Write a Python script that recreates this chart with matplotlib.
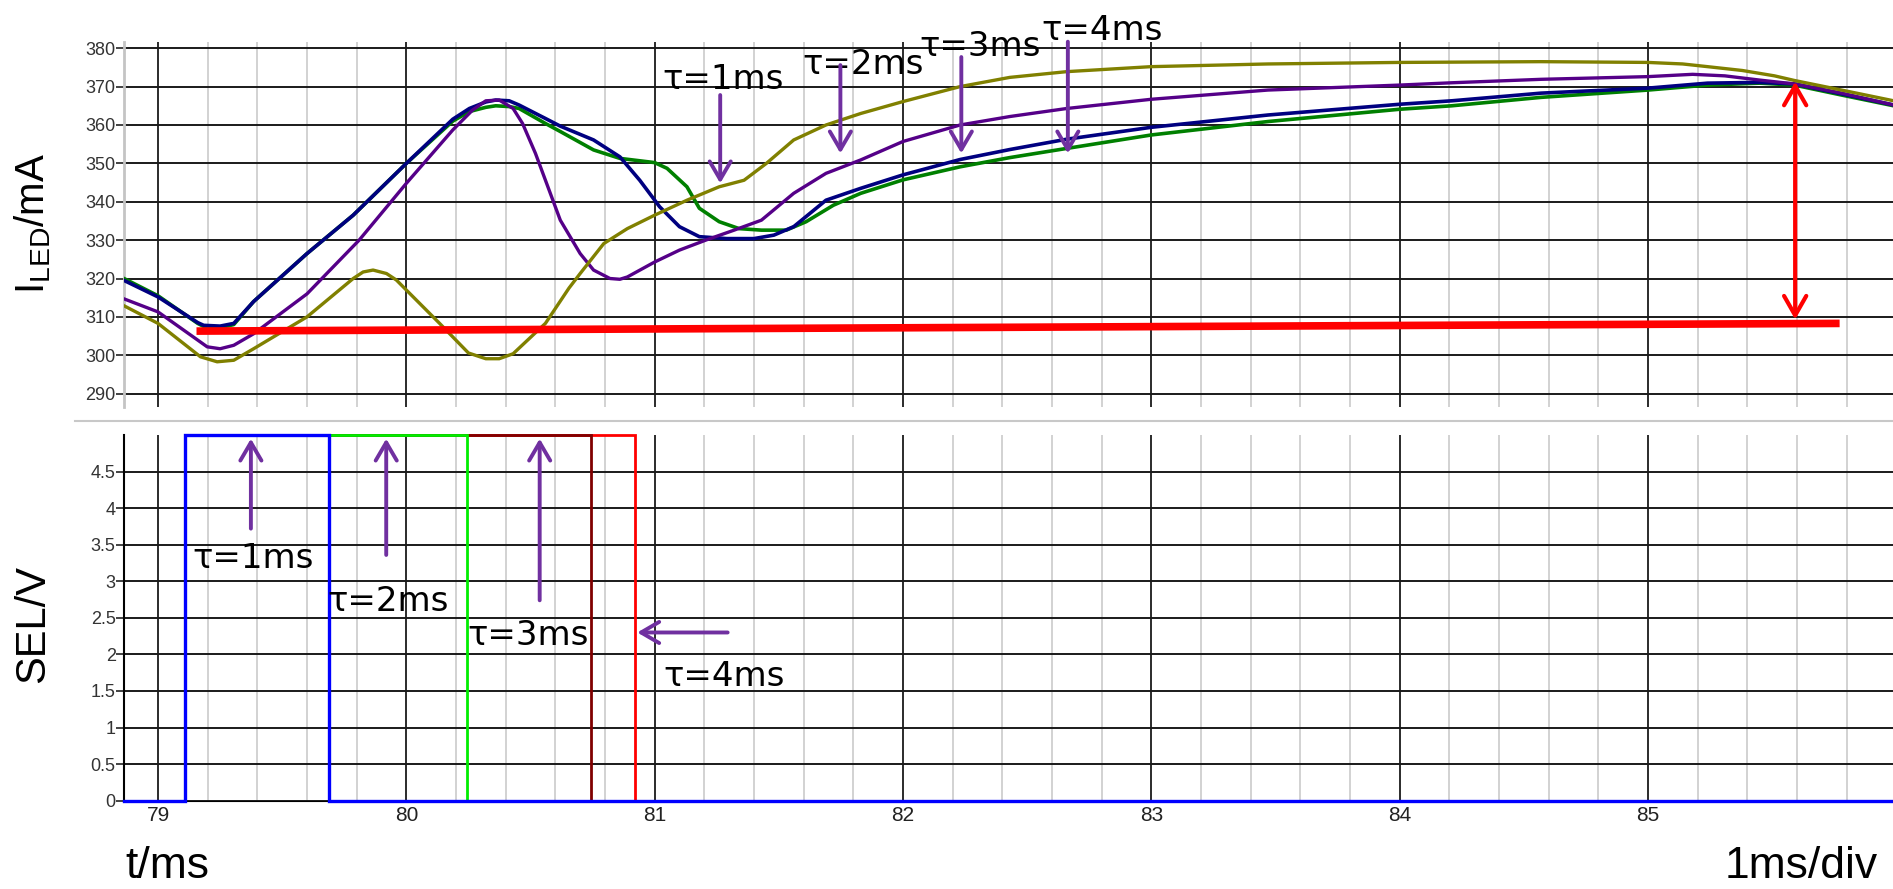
import matplotlib
matplotlib.use("Agg")
import matplotlib.pyplot as plt
from matplotlib.ticker import MultipleLocator, FuncFormatter, FixedLocator
from matplotlib.lines import Line2D

plt.rcParams['font.family'] = ['Liberation Sans', 'DejaVu Sans']
plt.rcParams['mathtext.fontset'] = 'custom'
plt.rcParams['mathtext.rm'] = 'Liberation Sans'
plt.rcParams['mathtext.it'] = 'Liberation Sans:italic'

# ---------------- data ----------------
x_range = (78.863, 85.987)
i_ticks = [290, 300, 310, 320, 330, 340, 350, 360, 370, 380]
v_ticks = [0, 0.5, 1, 1.5, 2, 2.5, 3, 3.5, 4, 4.5]
t_ticks = [79, 80, 81, 82, 83, 84, 85]

# LED current traces (t in ms, I in mA)
t_blue = [78.863, 79.0, 79.16, 79.184, 79.25, 79.305, 79.385, 79.6, 79.786, 80.0, 80.187, 80.254,
          80.32, 80.36, 80.414, 80.454, 80.56, 80.62, 80.754, 80.86, 80.94, 81.02, 81.10, 81.18,
          81.29, 81.40, 81.48, 81.56, 81.69, 81.83, 82.0, 82.23, 82.43, 82.66, 83.0, 83.47, 84.0,
          84.21, 84.57, 85.0, 85.24, 85.45, 85.59, 85.78, 85.99]
i_blue = [319.5, 315.2, 308.5, 307.8, 307.6, 308.3, 314.0, 326.5, 336.5, 350.0, 361.5, 364.3,
          366.0, 366.5, 366.3, 365.2, 361.7, 359.7, 356.1, 351.7, 345.6, 338.7, 333.5, 330.9,
          330.4, 330.4, 331.3, 333.5, 340.4, 343.5, 347.0, 351.0, 353.6, 356.3, 359.4, 362.6, 365.4,
          366.3, 368.3, 369.6, 370.9, 371.1, 370.7, 368.1, 365.2]

t_green = [78.863, 79.0, 79.16, 79.184, 79.25, 79.305, 79.385, 79.6, 79.786, 80.0, 80.187, 80.254,
           80.32, 80.36, 80.414, 80.454, 80.56, 80.62, 80.754, 80.86, 81.0, 81.05, 81.13, 81.18,
           81.26, 81.34, 81.43, 81.53, 81.61, 81.72, 81.83, 82.0, 82.23, 82.43, 82.66, 83.0, 83.47,
           84.0, 84.21, 84.57, 85.0, 85.24, 85.45, 85.59, 85.78, 85.99]
i_green = [320.0, 315.5, 308.3, 307.5, 307.2, 308.0, 314.0, 326.5, 336.5, 350.0, 361.0, 363.5,
           364.6, 365.0, 364.8, 364.3, 360.4, 358.3, 353.5, 351.3, 350.2, 348.7, 343.9, 338.3,
           334.8, 333.0, 332.6, 332.6, 334.8, 339.1, 342.2, 345.7, 349.1, 351.5, 353.9, 357.4, 360.9,
           364.1, 365.0, 367.2, 369.1, 370.4, 370.9, 370.4, 367.8, 365.0]

t_purple = [78.863, 79.0, 79.198, 79.25, 79.305, 79.385, 79.6, 79.81, 80.0, 80.187, 80.267, 80.32,
            80.374, 80.43, 80.468, 80.52, 80.62, 80.70, 80.754, 80.82, 80.86, 80.89, 81.0, 81.10,
            81.21, 81.32, 81.43, 81.56, 81.69, 81.83, 82.0, 82.23, 82.43, 82.66, 83.0, 83.47, 84.0,
            84.21, 84.57, 85.0, 85.18, 85.31, 85.45, 85.59, 85.78, 85.99]
i_purple = [314.7, 311.3, 302.2, 301.7, 302.6, 305.6, 316.0, 330.0, 344.8, 358.7, 363.9, 366.3,
            366.5, 364.3, 360.4, 352.6, 335.2, 326.5, 322.2, 320.0, 319.8, 320.4, 324.3, 327.4,
            330.1, 332.6, 335.2, 342.2, 347.4, 350.9, 355.7, 360.0, 362.2, 364.3, 366.7, 369.1, 370.4,
            371.0, 371.9, 372.6, 373.2, 372.8, 371.7, 370.7, 368.3, 365.2]

t_olive = [78.863, 79.0, 79.171, 79.238, 79.305, 79.385, 79.6, 79.786, 79.826, 79.866, 79.92,
           79.96, 80.0, 80.134, 80.25, 80.32, 80.374, 80.43, 80.56, 80.655, 80.70, 80.795, 80.89,
           81.0, 81.13, 81.26, 81.36, 81.45, 81.56, 81.69, 81.83, 82.0, 82.23, 82.43, 82.66, 83.0,
           83.47, 84.0, 84.57, 85.0, 85.14, 85.24, 85.38, 85.51, 85.59, 85.78, 85.99]
i_olive = [312.9, 308.3, 299.6, 298.3, 298.7, 301.7, 310.0, 320.0, 321.7, 322.2, 321.3,
           319.6, 317.0, 308.3, 300.6, 299.1, 299.1, 300.4, 308.3, 317.5, 321.3, 329.1, 333.0,
           336.5, 340.4, 343.9, 345.6, 350.0, 356.1, 360.0, 363.0, 366.1, 370.0, 372.4, 373.9, 375.2,
           375.9, 376.3, 376.5, 376.3, 375.9, 375.2, 374.2, 372.8, 371.6, 369.1, 366.3]

# SEL pulses (V): common rising edge, falling edges per tau
sel_high = 5.0
sel_rise = 79.11
sel_fall = {"red": 80.922, "dark red": 80.742, "green": 80.243, "blue": 79.689}

# red reference line and span arrow
ref_t = [79.155, 85.772]
ref_i = [306.3, 308.3]
span_t = 85.593
span_i = (309.3, 371.3)

tau_labels = ["τ=1ms", "τ=2ms", "τ=3ms", "τ=4ms"]
# top annotations: text (x, y baseline), arrow x, tail, tip
top_text_xy = [(81.033, 369.4), (81.593, 373.4), (82.068, 378.0), (82.556, 382.2)]
top_arrow_x = [81.264, 81.748, 82.235, 82.664]
top_arrow_tail = [367.8, 375.6, 377.7, 381.7]
top_arrow_tip = [344.8, 352.6, 352.6, 352.6]
# bottom annotations
bot_text_xy = [(79.140, 3.18), (79.684, 2.60), (80.244, 2.13), (81.037, 1.57)]
bot_arrow_x = [79.374, 79.919, 80.537]
bot_arrow_tail = [3.72, 3.36, 2.74]
bot_arrow_tip = 4.95
bot_arrow4 = ((81.294, 2.30), (80.930, 2.30))

# ---------------- figure ----------------
W, H = 1893, 889
fig = plt.figure(figsize=(W / 100, H / 100), dpi=100)
left = 124 / W
ax1 = fig.add_axes([left, (H - 406.7) / H, 1 - left, (406.7 - 41.7) / H])
ax2 = fig.add_axes([left, (H - 800.7) / H, 1 - left, (800.7 - 435) / H])

grid_dark = '#1a1a1a'
grid_light = '#d2d2d2'
for ax in (ax1, ax2):
    ax.set_xlim(*x_range)
    ax.xaxis.set_major_locator(FixedLocator(t_ticks))
    ax.xaxis.set_minor_locator(MultipleLocator(0.2))
    ax.grid(which='minor', axis='x', color=grid_light, lw=1.4, zorder=0)
    ax.grid(which='major', axis='x', color=grid_dark, lw=1.3, zorder=0.5)
    ax.grid(which='major', axis='y', color=grid_dark, lw=1.4, zorder=0.5)
    ax.set_axisbelow(True)
    ax.tick_params(which='minor', length=0)
    ax.tick_params(axis='y', which='major', length=6, width=1.2, color='#222222',
                   labelsize=13, labelcolor='#333333', pad=0)
    for s in ('top', 'right'):
        ax.spines[s].set_visible(False)

ax1.set_ylim(286.6, 381.7)
ax1.set_yticks(i_ticks)
ax1.tick_params(axis='x', which='major', length=0, labelbottom=False)
ax1.spines['bottom'].set_visible(False)
ax1.spines['left'].set_color('#c4c4c4')
ax1.spines['left'].set_linewidth(2)

ax2.set_ylim(0, 5.0)
ax2.set_yticks(v_ticks)
ax2.yaxis.set_major_formatter(FuncFormatter(lambda v, p: f"{v:g}"))
ax2.tick_params(axis='x', which='major', length=0, labelsize=15, labelcolor='#222222', pad=4)
ax2.spines['left'].set_color('black')
ax2.spines['left'].set_linewidth(1.5)
ax2.spines['bottom'].set_color('black')

# current traces
ax1.plot(t_green, i_green, color='#008000', lw=2.6, zorder=3)
ax1.plot(t_blue, i_blue, color='#000080', lw=2.6, zorder=3.1)
ax1.plot(t_purple, i_purple, color='#550088', lw=2.4, zorder=3.2)
ax1.plot(t_olive, i_olive, color='#808000', lw=2.4, zorder=3.3)

# red reference line and double arrow
ax1.plot(ref_t, ref_i, color='#ff0000', lw=5.5, solid_capstyle='butt', zorder=4)
ax1.annotate('', xy=(span_t, span_i[1]), xytext=(span_t, span_i[0]),
             arrowprops=dict(arrowstyle='<->, head_length=0.7, head_width=0.4',
                             color='#ff0000', lw=3, mutation_scale=20,
                             shrinkA=0, shrinkB=0), zorder=5)

# SEL pulses
x0, x1 = x_range
pulse_colors = {"red": '#ff0000', "dark red": '#800000', "green": '#00ee00', "blue": '#0000ff'}
for name in ["red", "dark red", "green", "blue"]:
    tf = sel_fall[name]
    ax2.plot([x0, sel_rise, sel_rise, tf, tf, x1], [0, 0, sel_high, sel_high, 0, 0],
             color=pulse_colors[name], lw=2.0 if name != "blue" else 2.4,
             clip_on=False, zorder=3, solid_joinstyle='miter')

# annotations
purple = '#7030A0'
tau_font = dict(family=['DejaVu Sans'], size=24.5, color='black')
aprops = dict(arrowstyle='->, head_length=0.65, head_width=0.38', color=purple, lw=2.8,
              mutation_scale=20, shrinkA=0, shrinkB=0)
for lab, (tx, ty), ax_, tail, tip in zip(tau_labels, top_text_xy, top_arrow_x,
                                        top_arrow_tail, top_arrow_tip):
    ax1.text(tx, ty, lab, ha='left', va='baseline', clip_on=False, zorder=6, **tau_font)
    ax1.annotate('', xy=(ax_, tip), xytext=(ax_, tail), arrowprops=aprops,
                 annotation_clip=False, zorder=6)

for lab, (tx, ty) in zip(tau_labels, bot_text_xy):
    ax2.text(tx, ty, lab, ha='left', va='baseline', clip_on=False, zorder=6, **tau_font)
for ax_, tail in zip(bot_arrow_x, bot_arrow_tail):
    ax2.annotate('', xy=(ax_, bot_arrow_tip), xytext=(ax_, tail), arrowprops=aprops,
                 annotation_clip=False, zorder=6)
ax2.annotate('', xy=bot_arrow4[1], xytext=bot_arrow4[0], arrowprops=aprops,
             annotation_clip=False, zorder=6)

# separator line between panels
fig.add_artist(Line2D([75 / W, 1.0], [1 - 421 / H, 1 - 421 / H], color='#c8c8c8', lw=1.5))

# axis captions
fig.text(33 / W, 1 - 224 / H, r'I$_{\mathrm{LED}}$/mA', rotation=90, ha='center', va='center',
         fontsize=29, color='black')
fig.text(33 / W, 1 - 624 / H, 'SEL/V', rotation=90, ha='center', va='center',
         fontsize=30, color='black')
fig.text(125 / W, 1 - 878 / H, 't/ms', ha='left', va='baseline', fontsize=32, color='black')
fig.text(1878 / W, 1 - 878 / H, '1ms/div', ha='right', va='baseline', fontsize=32, color='black')

fig.savefig('out.png', dpi=100)
